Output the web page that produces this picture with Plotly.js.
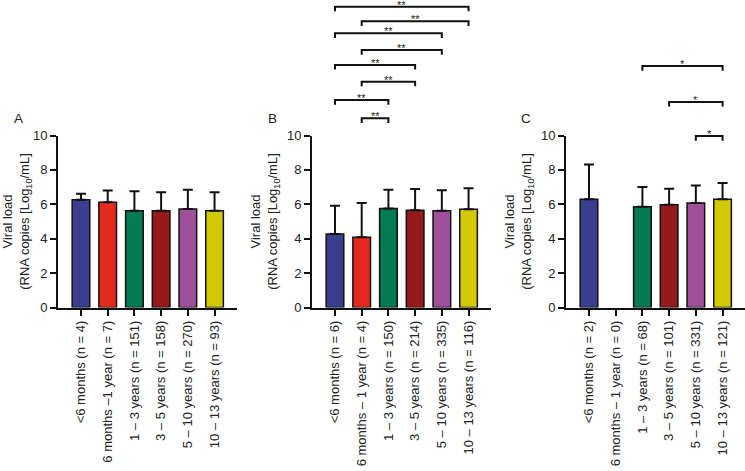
<!DOCTYPE html>
<html>
<head>
<meta charset="utf-8">
<script src="https://cdn.plot.ly/plotly-3.0.1.min.js"></script>
<style>html,body{margin:0;padding:0;background:#fff}#chart{width:745px;height:471px}</style>
</head>
<body>
<div id="chart"></div>
<script>
// ---- data ----
var labelsA = ['<6 months (n = 4)', '6 months –1 year (n = 7)', '1 – 3 years (n = 151)', '3 – 5 years (n = 158)', '5 – 10 years (n = 270)', '10 – 13 years (n = 93)'];
var labelsB = ['<6 months (n = 6)', '6 months – 1 year (n = 4)', '1 – 3 years (n = 150)', '3 – 5 years (n = 214)', '5 – 10 years (n = 335)', '10 – 13 years (n = 116)'];
var labelsC = ['<6 months (n = 2)', '6 months – 1 year (n = 0)', '1 – 3 years (n = 68)', '3 – 5 years (n = 101)', '5 – 10 years (n = 331)', '10 – 13 years (n = 121)'];

var meanA = [6.27, 6.12, 5.63, 5.63, 5.73, 5.63];
var sdA   = [0.35, 0.68, 1.13, 1.07, 1.12, 1.07];
var meanB = [4.27, 4.08, 5.75, 5.65, 5.63, 5.71];
var sdB   = [1.65, 2.00, 1.10, 1.24, 1.19, 1.22];
var meanC = [6.29, null, 5.86, 5.98, 6.08, 6.29];
var sdC   = [2.02, null, 1.15, 0.93, 1.01, 0.95];

var colors = ['#393f8e', '#e42a1d', '#027a52', '#96191b', '#a0509b', '#d3c900'];

// significance brackets (category index from, to, level in axis units, label)
var bracketFromB = [0, 1, 0, 1, 0, 1, 0, 1];
var bracketToB   = [5, 5, 4, 4, 3, 3, 2, 2];
var bracketLevB  = [17.49, 16.64, 15.94, 14.97, 14.10, 13.13, 12.06, 11.00];
var bracketTxtB  = ['**', '**', '**', '**', '**', '**', '**', '**'];
var bracketFromC = [2, 3, 4];
var bracketToC   = [5, 5, 5];
var bracketLevC  = [14.04, 11.95, 9.97];
var bracketTxtC  = ['*', '*', '*'];

var panelNames = ['A', 'B', 'C'];

// ---- build ----
var idx = [0, 1, 2, 3, 4, 5];
var yRange = [0, 10];
var font = 'Liberation Sans, Arial, sans-serif';

function barTrace(mean, sd, ax) {
  return {
    type: 'bar', x: idx, y: mean, xaxis: 'x' + ax, yaxis: 'y' + ax,
    marker: {color: colors, line: {color: '#111', width: 1.5}},
    error_y: {type: 'data', symmetric: false, array: sd,
              arrayminus: sd.map(function (v) { return v === null ? null : 0; }),
              color: '#111', thickness: 2, width: 5},
    showlegend: false, hoverinfo: 'y'
  };
}

var data = [barTrace(meanA, sdA, ''), barTrace(meanB, sdB, '2'), barTrace(meanC, sdC, '3')];

var W = 745, H = 471;
var xDomains = [[58 / W, 237 / W], [312 / W, 491 / W], [566 / W, 745 / W]];
var yDomain = [(H - 307.5) / H, (H - 135.5) / H];

function xAxis(labels, dom, anchor) {
  return {
    domain: dom, anchor: anchor, range: [-0.86, 5.84], tickvals: idx, ticktext: labels,
    tickangle: -90, ticks: 'outside', ticklen: 6, tickwidth: 2, tickcolor: '#111',
    showline: true, linewidth: 2, linecolor: '#111', showgrid: false, zeroline: false,
    tickfont: {family: font, size: 13, color: '#222'}, fixedrange: true
  };
}
function yAxis(anchor) {
  return {
    domain: yDomain, anchor: anchor, range: yRange, tickvals: [0, 2, 4, 6, 8, 10],
    ticks: 'outside', ticklen: 6, tickwidth: 2, tickcolor: '#111',
    showline: true, linewidth: 2, linecolor: '#111', showgrid: false, zeroline: false,
    tickfont: {family: font, size: 13, color: '#222'},
    title: {text: 'Viral load<br>(RNA copies [Log<sub>10</sub>/mL]', standoff: 6,
            font: {family: font, size: 13, color: '#222'}},
    fixedrange: true
  };
}

var shapes = [], annotations = [];
function addBrackets(from, to, lev, txt, ax) {
  for (var i = 0; i < from.length; i++) {
    var y = (lev[i] - yRange[0]) / (yRange[1] - yRange[0]);
    var d = 0.27 / (yRange[1] - yRange[0]);
    shapes.push({type: 'path', xref: 'x' + ax, yref: 'y' + ax + ' domain',
      path: 'M' + from[i] + ',' + (y - d) + 'L' + from[i] + ',' + y + 'L' + to[i] + ',' + y + 'L' + to[i] + ',' + (y - d),
      line: {color: '#111', width: 2}});
    annotations.push({xref: 'x' + ax, yref: 'y' + ax + ' domain', x: (from[i] + to[i]) / 2, y: y,
      text: txt[i], showarrow: false, yanchor: 'bottom', yshift: -6,
      font: {family: font, size: 11, color: '#222'}});
  }
}
addBrackets(bracketFromB, bracketToB, bracketLevB, bracketTxtB, '2');
addBrackets(bracketFromC, bracketToC, bracketLevC, bracketTxtC, '3');

var labelX = [18, 272, 526];
for (var p = 0; p < 3; p++) {
  annotations.push({xref: 'paper', yref: 'paper', x: labelX[p] / W, y: (H - 118) / H,
    text: panelNames[p], showarrow: false, xanchor: 'center', yanchor: 'middle',
    font: {family: font, size: 13.5, color: '#222'}});
}

var layout = {
  width: W, height: H, margin: {l: 0, r: 0, t: 0, b: 0},
  paper_bgcolor: '#fff', plot_bgcolor: '#fff', bargap: 0.34,
  xaxis: xAxis(labelsA, xDomains[0], 'y'),
  xaxis2: xAxis(labelsB, xDomains[1], 'y2'),
  xaxis3: xAxis(labelsC, xDomains[2], 'y3'),
  yaxis: yAxis('x'), yaxis2: yAxis('x2'), yaxis3: yAxis('x3'),
  shapes: shapes, annotations: annotations,
  font: {family: font, color: '#222'}
};

Plotly.newPlot('chart', data, layout, {staticPlot: true, displayModeBar: false});
</script>
</body>
</html>
